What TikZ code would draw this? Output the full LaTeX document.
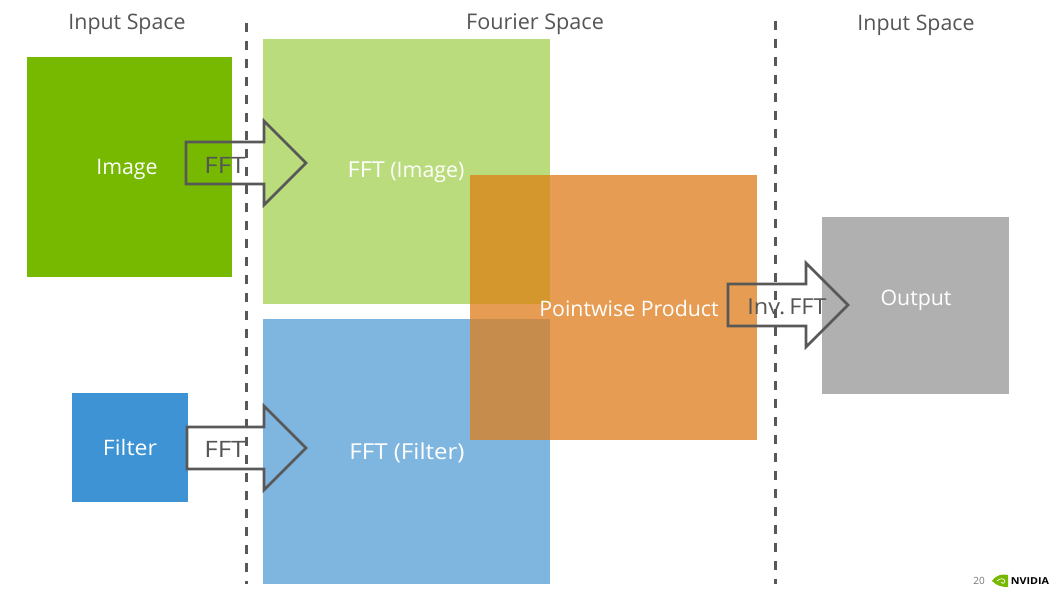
\documentclass[tikz,border=0pt]{standalone}
\usepackage{fontspec}
\usepackage{graphicx}
\setmainfont{Open Sans}
\definecolor{ngreen}{RGB}{118,185,0}
\definecolor{lgreen}{RGB}{186,220,124}
\definecolor{nblue}{RGB}{62,147,213}
\definecolor{lblue}{RGB}{127,182,224}
\definecolor{orangemain}{RGB}{230,157,83}
\definecolor{orangegreen}{RGB}{212,151,46}
\definecolor{orangeblue}{RGB}{197,140,75}
\definecolor{ngray}{RGB}{176,176,176}
\definecolor{tgray}{RGB}{85,85,85}
\definecolor{lgray}{RGB}{88,88,88}
\newcommand{\widefft}{\scalebox{1.22}[1.06]{FFT}}
\tikzset{
 x=0.75pt,y=-0.75pt,
 boxlabel/.style={text=white,font=\fontsize{16}{18}\selectfont,inner sep=0pt},
 title/.style={text=tgray,font=\fontsize{16}{18}\selectfont,inner sep=0pt},
 arrowtext/.style={text=tgray,font=\fontsize{16}{18}\selectfont,inner sep=0pt},
 divider/.style={draw=lgray,line width=2.2pt,dash pattern=on 7pt off 6.5pt},
 blockarrow/.style={draw=lgray,line width=1.9pt,line join=miter},
}
\begin{document}
\begin{tikzpicture}
\useasboundingbox (0,0) rectangle (1064,595);
\fill[white] (0,0) rectangle (1064,595);
% panels
\fill[ngreen] (27,57) rectangle (232,277);
\fill[lgreen] (263,39) rectangle (550,304);
\fill[lblue] (263,319) rectangle (550,584);
\fill[nblue] (72,393) rectangle (188,502);
\fill[orangemain] (470,175) rectangle (757,440);
\fill[orangegreen] (470,175) rectangle (550,304);
\fill[orangeblue] (470,319) rectangle (550,440);
\fill[ngray] (822,217) rectangle (1009,394);
% dividers
\coordinate (d1a) at (246.7,23); \coordinate (d1b) at (246.7,584);
\coordinate (d2a) at (775.3,21); \coordinate (d2b) at (775.3,584);
\draw[divider] (d1a) -- (d1b);
\draw[divider] (d2a) -- (d2b);
% labels
\node[title] (t1) at (127,24) {Input Space};
\node[title,font=\fontsize{16.2}{18}\selectfont] (t2) at (535,24) {Fourier Space};
\node[title] (t3) at (916,25) {Input Space};
\node[boxlabel] (image) at (127,169) {Image};
\node[boxlabel] (fftimg) at (406,172) {\scalebox{1.1}[1.03]{FFT} (Image)};
\node[boxlabel] (filter) at (130,447) {\scalebox{1.08}[1]{Filter}};
\node[boxlabel] (fftfil) at (407,453) {\scalebox{1.13}[1.03]{FFT (Filter)}};
\node[boxlabel] (pp) at (629,309) {Pointwise Product};
\node[boxlabel] (out) at (916,300) {Output};
% arrows
\draw[blockarrow] (186,142) -- (264,142) -- (264,121) -- (306,163) -- (264,205) -- (264,184) -- (186,184) -- cycle;
\draw[blockarrow] (187,427) -- (264,427) -- (264,406) -- (306,448) -- (264,490) -- (264,469) -- (187,469) -- cycle;
\draw[blockarrow] (728,284) -- (806,284) -- (806,263) -- (848,305) -- (806,347) -- (806,326) -- (728,326) -- cycle;
\node[arrowtext] (a1) at (225,165) {\widefft};
\node[arrowtext] (a2) at (225,449) {\widefft};
\node[arrowtext] (a3) at (787,307) {\scalebox{1.1}[1.03]{Inv.\,FFT}};
% footer
\node[text=tgray!80,font=\fontsize{7.5}{8}\selectfont,inner sep=0pt] (pg) at (979,581) {20};
\fill[ngreen] (992,581) .. controls (997,574) and (1003,574) .. (1008,575) -- (1008,587) .. controls (1002,587) and (997,586) .. (992,581) -- cycle;
\draw[white,line width=.5pt] (997,581) .. controls (1000,578) and (1004,578) .. (1005,581) .. controls (1004,584) and (1002,584) .. (1001,582);
\node[text=black,font=\fontsize{7.2}{8}\selectfont\bfseries,inner sep=0pt] (nv) at (1030,581) {\scalebox{1.12}[1]{NVIDIA}};
\end{tikzpicture}
\end{document}
